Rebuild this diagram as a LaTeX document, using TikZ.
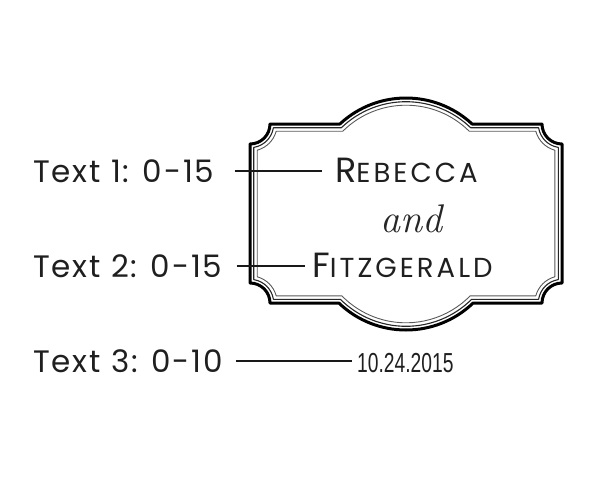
\documentclass[tikz,border=0pt]{standalone}
\usepackage{fontspec}
\usepackage{xcolor}
\usepackage{tikz}
\usetikzlibrary{positioning,calc}
\setmainfont{Poppins}
\newfontfamily\labelfont[LetterSpace=6]{Poppins}
\newfontfamily\namefont[LetterSpace=11]{Poppins}
\newfontfamily\datefont[FakeStretch=0.7]{Liberation Sans}
\newfontfamily\andfont{Latin Modern Roman}

\begin{document}
\begin{tikzpicture}[
    x=1pt, y=-1pt,
    fieldlabel/.style={anchor=base west, inner sep=0pt, text=black!88, font=\labelfont\fontsize{31}{36}\selectfont},
    namebox/.style={anchor=base west, inner sep=0pt, text=black!88, font=\namefont},
    datebox/.style={anchor=base west, inner sep=0pt, text=black!88, font=\datefont\fontsize{27.5}{30}\selectfont},
    leader/.style={line width=1.6pt, black!90},
    rim/.style={line width=#1, line join=round}
]
    \useasboundingbox (0,0) rectangle (600,480);

    % frame: three nested outlines, inset by d
    \foreach \d/\w/\c in {0/3pt/black, 3.7/1.1pt/black!85, 7.2/0.9pt/black!65}{
        \pgfmathsetmacro\r{20+\d}
        \pgfmathsetmacro\e{sqrt(\r*\r-\d*\d)}
        \pgfmathsetmacro\a{asin(\d/\r)}
        \pgfmathsetmacro\R{97-\d}
        \pgfmathsetmacro\bt{acos((71-\d)/\R)}
        \pgfmathsetmacro\bb{acos((70-\d)/\R)}
        \pgfmathsetmacro\xt{\R*sin(\bt)}
        \pgfmathsetmacro\xb{\R*sin(\bb)}
        \draw[rim=\w, draw=\c] (250+\e,124+\d) -- (406-\xt,124+\d)
            arc[start angle=-90-\bt, end angle=-90+\bt, radius=\R]
            -- (562-\e,124+\d)
            arc[start angle=180-\a, end angle=90+\a, radius=\r]
            -- (562-\d,303-\e)
            arc[start angle=270-\a, end angle=180+\a, radius=\r]
            -- (406+\xb,303-\d)
            arc[start angle=90-\bb, end angle=90+\bb, radius=\R]
            -- (250+\e,303-\d)
            arc[start angle=360-\a, end angle=270+\a, radius=\r]
            -- (250+\d,124+\e)
            arc[start angle=90-\a, end angle=\a, radius=\r] -- cycle;
    }

    \node[fieldlabel] (text1) at (33,182) {Text 1: 0-15};
    \node[fieldlabel] (text2) at (33,277) {Text 2: 0-15};
    \node[fieldlabel] (text3) at (33,372) {Text 3: 0-10};

    \node[namebox] (first) at (335,182) {\fontsize{35}{38}\selectfont R\fontsize{27.5}{30}\selectfont EBECCA};
    \node[text=black!85, font=\andfont\itshape\fontsize{40}{42}\selectfont] (and) at (411,219) {and};
    \node[namebox] (last) at (312,277) {\fontsize{35}{38}\selectfont F\fontsize{27.5}{30}\selectfont ITZGERALD};
    \node[datebox] (date) at (357,372) {10.24.2015};

    \draw[leader] ([xshift=20pt]text1.east) -- ([xshift=-13pt]text1.east -| first.west);
    \draw[leader] ([xshift=14pt]text2.east) -- ([xshift=-7pt]text2.east -| last.west);
    \draw[leader] ([xshift=13pt]text3.east) -- ([xshift=-5pt]text3.east -| date.west);
\end{tikzpicture}
\end{document}
